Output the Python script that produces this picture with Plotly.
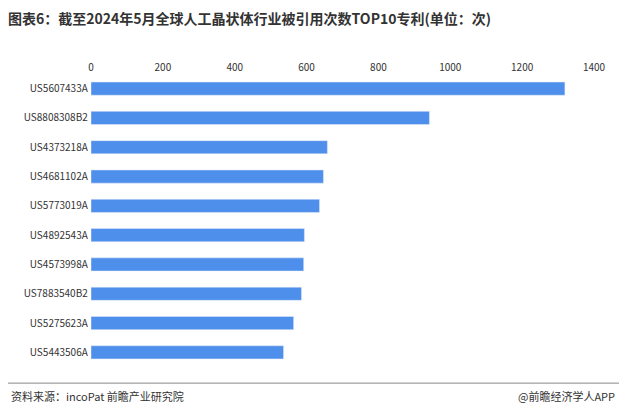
import plotly.graph_objects as go

patents = ["US5607433A", "US8808308B2", "US4373218A", "US4681102A", "US5773019A",
           "US4892543A", "US4573998A", "US7883540B2", "US5275623A", "US5443506A"]
citations = [1319, 942, 658, 647, 636, 594, 592, 586, 564, 536]

fig = go.Figure(go.Bar(
    y=patents, x=citations, orientation="h",
    marker_color="#4f8fec", width=0.45,
))

fig.update_layout(
    width=627, height=411,
    margin=dict(l=83, r=41, t=66, b=52),
    plot_bgcolor="white", paper_bgcolor="white",
    font=dict(family="Noto Sans CJK SC", size=10, color="#333"),
    title=dict(text="<b>图表6：截至2024年5月全球人工晶状体行业被引用次数TOP10专利(单位：次)</b>",
               x=0.0, y=0.985, xanchor="left", yanchor="top", font=dict(size=14, color="#333")),
    showlegend=False,
)
fig.update_xaxes(side="top", range=[0, 1400], dtick=200, showgrid=False,
                 zeroline=False, showline=False, ticks="", automargin=False)
fig.update_yaxes(autorange="reversed", showgrid=False, showline=False, ticks="",
                 ticksuffix=" ", automargin=False)

fig.add_annotation(text="资料来源：incoPat 前瞻产业研究院", xref="paper", yref="paper",
                   x=-0.163, y=-0.1, xanchor="left", yanchor="middle", showarrow=False,
                   font=dict(size=11, color="#333"))
fig.add_annotation(text="@前瞻经济学人APP", xref="paper", yref="paper",
                   x=1.045, y=-0.1, xanchor="right", yanchor="middle", showarrow=False,
                   font=dict(size=11, color="#333"))
fig.add_shape(type="line", xref="paper", yref="paper", x0=-0.18, x1=1.07,
              y0=-0.055, y1=-0.055, line=dict(color="#888", width=1))

fig.write_html("out.html")
